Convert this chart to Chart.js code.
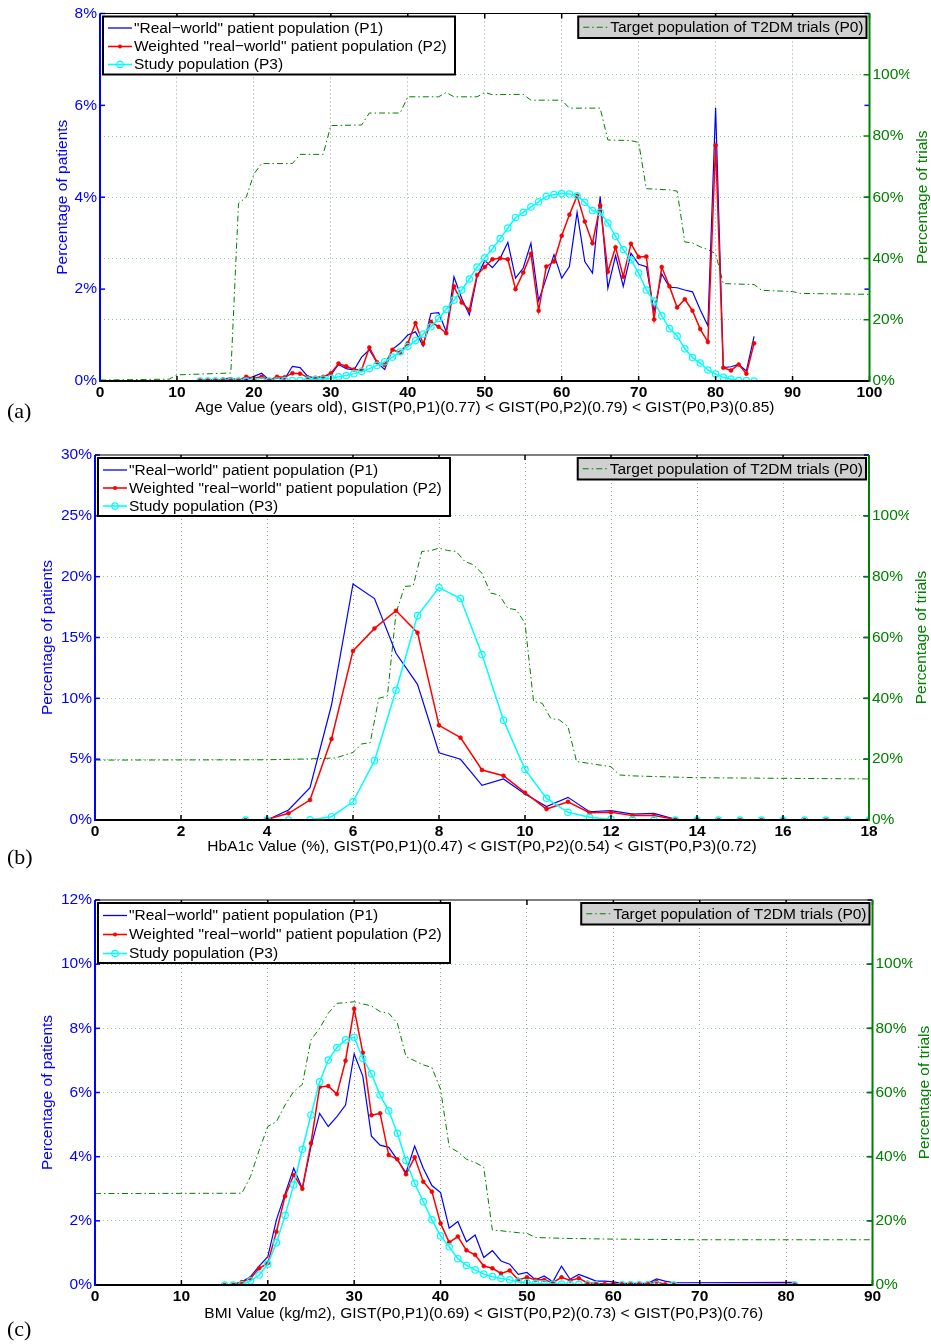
<!DOCTYPE html>
<html>
<head>
<meta charset="utf-8">
<script src="https://cdn.jsdelivr.net/npm/chart.js@4.4.1/dist/chart.umd.min.js"></script>
<style>
  html, body { margin: 0; padding: 0; background: #fff; }
  #wrap { position: relative; width: 931px; height: 1344px; }
  canvas { position: absolute; left: 0; }
</style>
</head>
<body>
<div id="wrap">
  <canvas id="chartAge" width="931" height="440" style="top:0px"></canvas>
  <canvas id="chartHba" width="931" height="446" style="top:440px"></canvas>
  <canvas id="chartBmi" width="931" height="458" style="top:886px"></canvas>
</div>
<script>
// ---- (a) Age ----
const ageX = [13,14,15,16,17,18,19,20,21,22,23,24,25,26,27,28,29,30,31,32,33,34,35,36,37,38,39,40,41,42,
  43,44,45,46,47,48,49,50,51,52,53,54,55,56,57,58,59,60,61,62,63,64,65,66,67,68,69,70,71,72,
  73,74,75,76,77,78,79,80,81,82,83,84,85];
const ageP1 = [0.02,0.03,0.02,0.04,0.07,0.01,0.03,0.10,0.17,0.02,
  0.06,0.04,0.32,0.29,0.10,0.06,0.11,0.13,0.36,0.27,
  0.24,0.52,0.68,0.40,0.25,0.69,0.82,1.00,1.07,0.76,
  1.47,1.49,1.07,2.27,1.80,1.44,2.27,2.62,2.47,2.67,
  3.02,2.24,2.46,3.00,1.75,2.24,2.75,2.24,2.49,3.67,
  2.60,2.35,4.02,2.02,2.73,2.06,2.78,2.54,2.49,1.51,
  2.33,2.04,2.03,1.98,1.94,1.55,1.20,5.95,0.29,0.31,
  0.36,0.22,0.97];
const ageP2 = [0.02,0.02,0.02,0.03,0.03,0.02,0.09,0.06,0.09,0.02,
  0.09,0.08,0.17,0.16,0.08,0.07,0.09,0.17,0.38,0.32,
  0.25,0.24,0.73,0.41,0.35,0.68,0.62,0.82,1.26,0.81,
  1.29,1.18,1.04,2.06,1.71,1.55,2.31,2.48,2.65,2.67,
  2.65,2.00,2.36,2.77,1.53,2.49,2.60,3.16,3.62,4.03,
  3.47,3.00,3.82,2.38,2.91,2.27,2.99,2.70,2.71,1.34,
  2.48,2.06,1.60,1.78,1.53,1.13,0.85,5.13,0.29,0.23,
  0.36,0.16,0.82];
const ageP3 = [0,0,0,0,0,0,0,0,0,0,
  0,0.01,0.01,0.01,0.02,0.03,0.04,0.06,0.09,0.12,
  0.16,0.21,0.27,0.34,0.42,0.52,0.63,0.75,0.88,1.02,
  1.18,1.36,1.56,1.76,1.98,2.22,2.48,2.68,2.88,3.10,
  3.33,3.56,3.67,3.79,3.90,4.02,4.06,4.08,4.07,4.03,
  3.89,3.71,3.67,3.44,3.15,2.86,2.64,2.35,1.98,1.74,
  1.42,1.14,0.98,0.70,0.51,0.39,0.24,0.15,0.08,0.04,
  0.01,0.01,0];
const ageP0x = [0,9,10,17,18,19,20,21,25,26,29,30,34,35,39,40,44,45,46,49,50,51,55,56,60,61,65,66,69,70,
  71,74,75,76,77,78,79,80,81,85,86,90,91,100];
const ageP0y = [0.3,0.6,2.0,2.6,58,60,67.6,71,71,74,74,83.4,83.6,87.5,87.5,92.8,92.8,94.2,92.8,92.8,94.2,93.5,93.6,91.7,91.7,89.1,89.1,78.7,78.5,77.9,
  62.8,62.4,62,45.4,45.1,43.8,42.9,41.6,31.8,31.5,29.6,29.2,28.6,28.3];

// ---- (b) HbA1c ----
const hbaX = [3.5,4,4.5,5,5.5,6,6.5,7,7.5,8,8.5,9,9.5,10,10.5,11,11.5,12,12.5,13,13.5,14,14.5,15,15.5,16,16.5,17,17.5,18];
const hbaP1 = [0,0,0.82,2.66,9.45,19.4,18.2,13.7,11.15,5.53,4.99,2.85,3.37,2.14,1.10,1.86,0.68,0.77,0.49,0.55,0.05,0.03,0.02,0.02,0.02,0.02,0.02,0.02,0.02,0.02];
const hbaP2 = [0,0.05,0.55,1.64,6.66,13.9,15.75,17.2,15.4,7.78,6.77,4.11,3.64,2.25,0.90,1.50,0.60,0.63,0.36,0.36,0.05,0.02,0.01,0.01,0.01,0.01,0.01,0.01,0.01,0.01];
const hbaP3 = [0,0,0,0.02,0.27,1.5,4.88,10.66,16.8,19.1,18.2,13.6,8.2,4.16,1.78,0.63,0.22,0.05,0.02,0.01,0,0,0,0,0,0,0,0,0,0];
const hbaP0x = [0,4,5,5.6,6.0,6.2,6.4,6.6,6.8,7.0,7.2,7.4,7.6,7.8,8.0,8.2,8.4,8.6,8.8,9.0,9.2,9.4,9.6,9.8,10.0,10.2,10.4,10.6,10.8,11.0,11.2,11.5,12.0,12.2,12.5,14,18];
const hbaP0y = [19.7,19.8,20.1,20.4,22.2,25,25.4,40,40.8,68,76.8,77,88.3,88.5,89.4,88.6,88.3,85,83.9,81.1,74.6,74,69.6,69.1,64.7,38.9,38.4,33.4,32.9,30.7,19.2,18.6,17.5,14.8,14.5,13.9,13.5];

// ---- (c) BMI ----
const bmiX = [15,16,17,18,19,20,21,22,23,24,25,26,27,28,29,30,31,32,33,34,35,36,37,38,39,40,41,
  42,43,44,45,46,47,48,49,50,51,52,53,54,55,56,57,58,59,60,61,62,63,64,65,66,67,81];
const bmiP1 = [0,0.02,0.10,0.26,0.59,0.88,2.03,2.84,3.64,3.01,4.31,5.35,4.94,5.25,5.61,7.20,6.51,4.64,4.36,4.29,3.90,3.50,4.33,3.64,3.10,2.88,1.77,
  1.98,1.35,1.56,0.86,1.07,0.75,0.65,0.33,0.39,0.16,0.28,0.10,0.59,0.18,0.33,0.23,0.12,0.12,0.10,0.05,0.05,0.05,0.05,0.19,0.12,0.07,0.08];
const bmiP2 = [0,0.01,0.09,0.20,0.52,0.68,1.66,2.77,3.43,3.00,4.42,6.17,6.20,5.95,6.99,8.61,7.24,5.29,5.35,4.05,3.92,3.45,3.98,3.22,2.91,1.92,1.33,
  1.51,1.08,0.94,0.59,0.52,0.36,0.45,0.16,0.24,0.16,0.16,0.07,0.24,0.14,0.21,0.07,0.05,0.03,0.03,0.02,0.02,0.02,0.03,0.10,0.02,0.01,0.02];
const bmiP3x = [15,16,17,18,19,20,21,22,23,24,25,26,27,28,29,30,31,32,33,34,35,36,37,38,39,40,41,
  42,43,44,45,46,47,48,49,50,51,52,53,54,55,56,57,58,61,62,63,64,65,67,81];
const bmiP3 = [0,0,0.01,0.13,0.31,0.65,1.32,2.17,3.12,4.23,5.30,6.33,7.01,7.40,7.64,7.72,7.06,6.58,5.92,5.43,4.73,3.88,3.17,2.60,2.03,1.53,1.19,
  0.82,0.61,0.47,0.34,0.26,0.20,0.16,0.10,0.07,0.05,0.04,0.03,0.03,0.02,0.02,0.01,0.01,0.01,0.01,0.01,0.01,0.01,0,0];
const bmiP0x = [0,17,18,19,20,21,22,23,24,25,26,27,28,29,30,31,32,33,34,35,36,37,38,39,40,41,42,43,44,45,46,47,48,49,50,51,55,60,70,90];
const bmiP0y = [28.5,28.6,33.8,42,49.4,50.9,56.1,60.3,62.5,76.4,80,84.7,87.8,88,88.3,87.6,87,85.2,84.7,81.6,71.2,69.9,68.6,67.8,61,43.1,41.5,39.2,38.2,36.7,17.1,16.9,16.6,16.3,16.1,14.8,14.5,14.3,14.1,14.1];

const legendP1 = '"Real\u2212world" patient population (P1)';
const legendP2 = 'Weighted "real\u2212world" patient population (P2)';
const legendP3 = 'Study population (P3)';
const legendP0 = 'Target population of T2DM trials (P0)';

const BLUE = '#0000ff', RED = '#ff0000', CYAN = '#00ffff', GREEN = '#008000';
const FONT = "'Liberation Sans', Arial, Helvetica, sans-serif";
const FS = 15.5;
const DASHDOT = [6, 3, 1.5, 3];

Chart.defaults.font.family = FONT;
Chart.defaults.font.size = FS;

function pts(xs, ys) { return xs.map((x, i) => ({ x: x, y: ys[i] })); }

// inward tick marks and coloured box edges, like the original figure
const framePlugin = {
  id: 'matlabFrame',
  afterDatasetsDraw(chart) {
    const { ctx, chartArea: a, scales } = chart;
    const tl = 5;
    const seg = (x1, y1, x2, y2) => { ctx.beginPath(); ctx.moveTo(x1, y1); ctx.lineTo(x2, y2); ctx.stroke(); };
    ctx.save();
    ctx.lineWidth = 1.5;
    ctx.strokeStyle = '#000';
    scales.x.ticks.forEach(t => {
      const px = scales.x.getPixelForValue(t.value);
      seg(px, a.bottom, px, a.bottom - tl);
      seg(px, a.top, px, a.top + tl);
    });
    ctx.strokeStyle = BLUE;
    scales.y.ticks.forEach(t => {
      const py = scales.y.getPixelForValue(t.value);
      seg(a.left, py, a.left + tl, py);
      seg(a.right, py, a.right - tl, py);
    });
    ctx.strokeStyle = GREEN;
    scales.y2.ticks.forEach(t => {
      if (t.value > 100) return;
      const py = scales.y2.getPixelForValue(t.value);
      seg(a.right, py, a.right - tl - 1, py);
    });
    ctx.lineWidth = 1.2; ctx.strokeStyle = '#000';
    seg(a.left, a.top, a.right, a.top);
    ctx.lineWidth = 2.2;
    seg(a.left, a.bottom, a.right, a.bottom);
    ctx.lineWidth = 2; ctx.strokeStyle = BLUE;
    seg(a.left, a.top, a.left, a.bottom + 1);
    ctx.strokeStyle = GREEN;
    seg(a.right, a.top, a.right, a.bottom + 1);
    ctx.restore();
  }
};

// legends, right axis title and panel letter
const decoPlugin = {
  id: 'deco',
  afterDraw(chart, args, o) {
    const { ctx, chartArea: a } = chart;
    ctx.save();
    ctx.font = FS + 'px ' + FONT;
    ctx.textBaseline = 'middle';

    // left legend
    const bx = a.left + 3, by = a.top + 3, bw = 352, bh = o.boxH;
    ctx.fillStyle = '#fff';
    ctx.fillRect(bx, by, bw, bh);
    ctx.lineWidth = 2; ctx.strokeStyle = '#000';
    ctx.strokeRect(bx, by, bw, bh);
    const rows = [
      { text: legendP1, color: BLUE, mark: null, lw: 1.3 },
      { text: legendP2, color: RED, mark: 'dot', lw: 1.6 },
      { text: legendP3, color: CYAN, mark: 'ring', lw: 1.6 }
    ];
    rows.forEach((r, i) => {
      const yy = by + o.rowY[i];
      ctx.strokeStyle = r.color; ctx.lineWidth = r.lw;
      ctx.beginPath(); ctx.moveTo(bx + 5, yy); ctx.lineTo(bx + 29, yy); ctx.stroke();
      if (r.mark === 'dot') {
        ctx.fillStyle = r.color; ctx.beginPath(); ctx.arc(bx + 17, yy, 2, 0, Math.PI * 2); ctx.fill();
      } else if (r.mark === 'ring') {
        ctx.lineWidth = 1.2; ctx.beginPath(); ctx.arc(bx + 17, yy, 3.2, 0, Math.PI * 2); ctx.stroke();
      }
      ctx.fillStyle = '#000'; ctx.textAlign = 'left';
      ctx.fillText(r.text, bx + 31, yy + 0.5);
    });

    // right legend
    const tw = ctx.measureText(legendP0).width;
    const rw = 32 + tw + 3, rh = 21.5;
    const rx = a.right - 3 - rw, ry = a.top + 3;
    ctx.fillStyle = '#d0d0d0';
    ctx.fillRect(rx, ry, rw, rh);
    ctx.lineWidth = 2; ctx.strokeStyle = '#000';
    ctx.strokeRect(rx, ry, rw, rh);
    ctx.strokeStyle = GREEN; ctx.lineWidth = 1; ctx.setLineDash(DASHDOT);
    ctx.beginPath(); ctx.moveTo(rx + 5, ry + rh / 2); ctx.lineTo(rx + 29, ry + rh / 2); ctx.stroke();
    ctx.setLineDash([]);
    ctx.fillStyle = '#000';
    ctx.fillText(legendP0, rx + 32, ry + rh / 2 + 0.5);

    // right axis title
    ctx.save();
    ctx.translate(o.rightTitleX, (a.top + a.bottom) / 2);
    ctx.rotate(-Math.PI / 2);
    ctx.fillStyle = GREEN; ctx.textAlign = 'center';
    ctx.fillText('Percentage of trials', 0, 0);
    ctx.restore();

    // panel letter
    ctx.font = '22px "Liberation Serif", "Times New Roman", serif';
    ctx.fillStyle = '#000'; ctx.textAlign = 'left';
    ctx.fillText(o.letter, 7, o.letterY);
    ctx.restore();
  }
};

function buildChart(id, p) {
  return new Chart(document.getElementById(id), {
    type: 'line',
    data: {
      datasets: [
        { label: 'P3', data: pts(p.p3x, p.p3), yAxisID: 'y', order: 0, borderColor: CYAN, borderWidth: 1.5,
          pointRadius: 3.2, pointBorderWidth: 1.2, pointBackgroundColor: 'rgba(0,0,0,0)', pointBorderColor: CYAN },
        { label: 'P2', data: pts(p.x, p.p2), yAxisID: 'y', order: 1, borderColor: RED, borderWidth: 1.5,
          pointRadius: 2, pointBorderWidth: 0.5, pointBackgroundColor: RED, pointBorderColor: '#dd0000' },
        { label: 'P1', data: pts(p.x, p.p1), yAxisID: 'y', order: 2, borderColor: BLUE, borderWidth: 1.2,
          pointRadius: 0 },
        { label: 'P0', data: pts(p.p0x, p.p0), yAxisID: 'y2', order: 3, borderColor: GREEN, borderWidth: 1,
          borderDash: DASHDOT, pointRadius: 0 }
      ]
    },
    options: {
      responsive: false,
      animation: false,
      devicePixelRatio: 1,
      layout: { padding: p.pad },
      plugins: {
        legend: { display: false },
        tooltip: { enabled: false },
        deco: p.deco
      },
      scales: {
        x: {
          type: 'linear', min: p.xMin, max: p.xMax,
          ticks: { stepSize: p.xStep, color: '#000', padding: 2, maxRotation: 0, autoSkip: false,
            font: { weight: 'bold', size: FS } },
          grid: { color: '#9a9a9a', lineWidth: 1, drawTicks: false },
          border: { display: false, dash: [1, 3] },
          title: { display: true, text: p.xTitle, color: '#000', padding: 0, font: { size: FS } },
          afterFit: s => { s.height = p.xH; }
        },
        y: {
          position: 'left', min: 0, max: p.yMax,
          ticks: { stepSize: p.yStep, color: BLUE, padding: 3, callback: v => v + '%' },
          grid: { display: false, drawTicks: false },
          border: { display: false },
          title: { display: true, text: 'Percentage of patients', color: BLUE, padding: 0, font: { size: FS } },
          afterFit: s => { s.width = p.yW; }
        },
        y2: {
          position: 'right', min: 0, max: 120,
          ticks: { stepSize: 20, color: GREEN, padding: 3, callback: v => (v <= 100 ? v + '%' : null) },
          grid: { color: '#8fcf8f', lineWidth: 1, drawTicks: false },
          border: { display: false, dash: [1, 3] },
          afterFit: s => { s.width = 40; }
        }
      }
    },
    plugins: [framePlugin, decoPlugin]
  });
}

buildChart('chartAge', {
  x: ageX, p1: ageP1, p2: ageP2, p3x: ageX, p3: ageP3, p0x: ageP0x, p0: ageP0y,
  xMin: 0, xMax: 100, xStep: 10, yMax: 8, yStep: 2,
  xTitle: 'Age Value (years old), GIST(P0,P1)(0.77) < GIST(P0,P2)(0.79) < GIST(P0,P3)(0.85)',
  pad: { left: 53.2, right: 21.5, top: 13.5, bottom: 22.7 }, yW: 46.8, xH: 36.3,
  deco: { boxH: 58, rowY: [11.5, 30, 48], rightTitleX: 922.5, letter: '(a)', letterY: 412 }
});

buildChart('chartHba', {
  x: hbaX, p1: hbaP1, p2: hbaP2, p3x: hbaX, p3: hbaP3, p0x: hbaP0x, p0: hbaP0y,
  xMin: 0, xMax: 18, xStep: 2, yMax: 30, yStep: 5,
  xTitle: 'HbA1c Value (%), GIST(P0,P1)(0.47) < GIST(P0,P2)(0.54) < GIST(P0,P3)(0.72)',
  pad: { left: 38.2, right: 22, top: 15, bottom: 30 }, yW: 56.8, xH: 36,
  deco: { boxH: 58, rowY: [12, 30, 48], rightTitleX: 922, letter: '(b)', letterY: 418 }
});

buildChart('chartBmi', {
  x: bmiX, p1: bmiP1, p2: bmiP2, p3x: bmiP3x, p3: bmiP3, p0x: bmiP0x, p0: bmiP0y,
  xMin: 0, xMax: 90, xStep: 10, yMax: 12, yStep: 2,
  xTitle: 'BMI Value (kg/m2), GIST(P0,P1)(0.69) < GIST(P0,P2)(0.73) < GIST(P0,P3)(0.76)',
  pad: { left: 38.7, right: 18.5, top: 14, bottom: 21.4 }, yW: 56.3, xH: 37.6,
  deco: { boxH: 60, rowY: [12.5, 31.5, 50.5], rightTitleX: 925, letter: '(c)', letterY: 444 }
});
</script>
</body>
</html>
